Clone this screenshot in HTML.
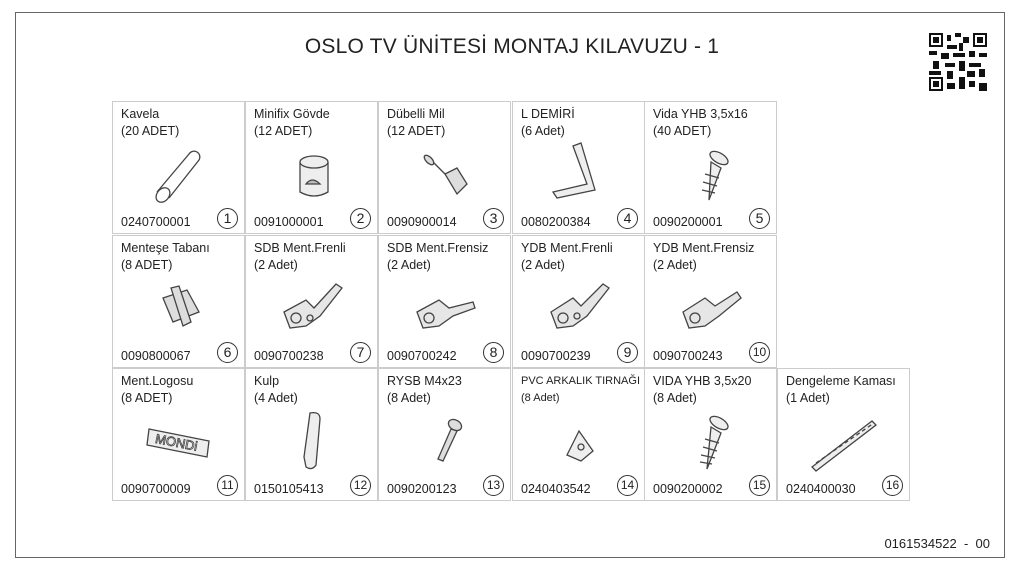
<!DOCTYPE html>
<html><head><meta charset="utf-8"><style>
body{margin:0;width:1024px;height:576px;background:#fff;position:relative;overflow:hidden;font-family:"Liberation Sans","DejaVu Sans",sans-serif;color:#222}
.frame{position:absolute;left:15px;top:12px;width:990px;height:546px;border:1.5px solid #666;box-sizing:border-box}
.title{position:absolute;left:0;width:1024px;top:35px;text-align:center;font-size:21px;letter-spacing:0.2px;color:#222}
.c{position:absolute;width:133px;height:133px;border:1px solid #ccc;box-sizing:border-box;font-size:12.5px}
.n{position:absolute;left:8px;top:4px;line-height:17px}
.code{position:absolute;left:8px;bottom:4px;font-size:12.5px}
.num{position:absolute;right:6px;bottom:4px;width:19px;height:19px;border:1px solid #333;border-radius:50%;text-align:center;line-height:19px;font-size:14px}
svg.ic{position:absolute;left:30px;top:36px;width:72px;height:72px}
.foot{position:absolute;right:34px;top:536px;font-size:13px}
.qr{position:absolute;left:929px;top:33px;width:58px;height:58px}
</style></head><body>
<div class="frame"></div>
<div class="title">OSLO TV ÜNİTESİ MONTAJ KILAVUZU - 1</div>
<svg class="qr" viewBox="0 0 29 29"><rect width="29" height="29" fill="#fff"/>
<g fill="#111"><rect x="0" y="0" width="7" height="7"/><rect x="22" y="0" width="7" height="7"/><rect x="0" y="22" width="7" height="7"/></g>
<g fill="#fff"><rect x="1" y="1" width="5" height="5"/><rect x="23" y="1" width="5" height="5"/><rect x="1" y="23" width="5" height="5"/></g>
<g fill="#111"><rect x="2" y="2" width="3" height="3"/><rect x="24" y="2" width="3" height="3"/><rect x="2" y="24" width="3" height="3"/>
<rect x="9" y="1" width="2" height="3"/><rect x="13" y="0" width="3" height="2"/><rect x="17" y="2" width="3" height="3"/><rect x="9" y="6" width="5" height="2"/><rect x="15" y="5" width="2" height="4"/>
<rect x="0" y="9" width="4" height="2"/><rect x="6" y="10" width="4" height="3"/><rect x="12" y="10" width="6" height="2"/><rect x="20" y="9" width="3" height="3"/><rect x="25" y="10" width="4" height="2"/>
<rect x="2" y="14" width="3" height="4"/><rect x="8" y="15" width="5" height="2"/><rect x="15" y="14" width="3" height="5"/><rect x="20" y="15" width="6" height="2"/>
<rect x="0" y="19" width="6" height="2"/><rect x="9" y="19" width="3" height="4"/><rect x="19" y="19" width="4" height="3"/><rect x="25" y="18" width="3" height="4"/>
<rect x="9" y="25" width="4" height="3"/><rect x="15" y="22" width="3" height="6"/><rect x="20" y="24" width="3" height="3"/><rect x="25" y="25" width="4" height="4"/></g></svg>

<!-- row1 -->
<div class="c" style="left:112px;top:101px"><div class="n">Kavela<br>(20 ADET)</div>
<svg class="ic" viewBox="0 0 72 72" fill="none" stroke="#444" stroke-width="1.3"><path d="M14 54 L46 16 A5 5 0 0 1 56 22 L26 60"/><ellipse cx="20" cy="57" rx="6" ry="8" transform="rotate(40 20 57)"/></svg>
<div class="code">0240700001</div><div class="num">1</div></div>
<div class="c" style="left:245px;top:101px"><div class="n">Minifix Gövde<br>(12 ADET)</div>
<svg class="ic" viewBox="0 0 72 72" fill="#eee" stroke="#444" stroke-width="1.3"><path d="M24 24 V54 Q38 62 52 54 V24"/><ellipse cx="38" cy="24" rx="14" ry="6"/><path d="M30 46 Q36 38 44 46 Z" fill="#bbb"/></svg>
<div class="code">0091000001</div><div class="num">2</div></div>
<div class="c" style="left:378px;top:101px"><div class="n">Dübelli Mil<br>(12 ADET)</div>
<svg class="ic" viewBox="0 0 72 72" fill="#ddd" stroke="#444" stroke-width="1.3"><path d="M22 22 L40 40"/><ellipse cx="20" cy="22" rx="3" ry="6" transform="rotate(-45 20 22)"/><path d="M36 36 L48 30 L58 46 L48 56 Z"/></svg>
<div class="code">0090900014</div><div class="num">3</div></div>
<div class="c" style="left:512px;top:101px"><div class="n">L DEMİRİ<br>(6 Adet)</div>
<svg class="ic" viewBox="0 0 72 72" fill="#eee" stroke="#444" stroke-width="1.3"><path d="M30 8 L38 5 L52 52 L14 60 L10 54 L44 46 Z"/></svg>
<div class="code">0080200384</div><div class="num">4</div></div>
<div class="c" style="left:644px;top:101px"><div class="n">Vida YHB 3,5x16<br>(40 ADET)</div>
<svg class="ic" viewBox="0 0 72 72" fill="#eee" stroke="#444" stroke-width="1.3"><ellipse cx="44" cy="20" rx="10" ry="5" transform="rotate(30 44 20)"/><path d="M36 24 L46 30 L34 62 Z"/><path d="M30 36 L44 40 M28 44 L42 48 M27 52 L40 55" /></svg>
<div class="code">0090200001</div><div class="num">5</div></div>
<!-- row2 -->
<div class="c" style="left:112px;top:235px"><div class="n">Menteşe Tabanı<br>(8 ADET)</div>
<svg class="ic" viewBox="0 0 72 72" fill="#ddd" stroke="#444" stroke-width="1.3"><path d="M20 26 L44 18 L56 40 L30 50 Z"/><path d="M28 16 L36 14 L48 50 L40 54 Z"/></svg>
<div class="code">0090800067</div><div class="num">6</div></div>
<div class="c" style="left:245px;top:235px"><div class="n">SDB Ment.Frenli<br>(2 Adet)</div>
<svg class="ic" viewBox="0 0 72 72" fill="#e6e6e6" stroke="#444" stroke-width="1.3"><path d="M8 40 L30 28 L38 36 L60 12 L66 16 L44 44 L30 54 L14 56 Z"/><circle cx="20" cy="46" r="5"/><circle cx="34" cy="46" r="3"/></svg>
<div class="code">0090700238</div><div class="num">7</div></div>
<div class="c" style="left:378px;top:235px"><div class="n">SDB Ment.Frensiz<br>(2 Adet)</div>
<svg class="ic" viewBox="0 0 72 72" fill="#e6e6e6" stroke="#444" stroke-width="1.3"><path d="M8 40 L30 28 L40 36 L64 30 L66 36 L44 44 L30 54 L14 56 Z"/><circle cx="20" cy="46" r="5"/></svg>
<div class="code">0090700242</div><div class="num">8</div></div>
<div class="c" style="left:512px;top:235px"><div class="n">YDB Ment.Frenli<br>(2 Adet)</div>
<svg class="ic" viewBox="0 0 72 72" fill="#e6e6e6" stroke="#444" stroke-width="1.3"><path d="M8 40 L30 26 L38 34 L60 12 L66 16 L44 44 L30 54 L14 56 Z"/><circle cx="20" cy="46" r="5"/><circle cx="34" cy="44" r="3"/></svg>
<div class="code">0090700239</div><div class="num">9</div></div>
<div class="c" style="left:644px;top:235px"><div class="n">YDB Ment.Frensiz<br>(2 Adet)</div>
<svg class="ic" viewBox="0 0 72 72" fill="#e6e6e6" stroke="#444" stroke-width="1.3"><path d="M8 40 L30 26 L40 34 L62 20 L66 26 L44 44 L30 54 L14 56 Z"/><circle cx="20" cy="46" r="5"/></svg>
<div class="code">0090700243</div><div class="num" style="font-size:12px">10</div></div>
<!-- row3 -->
<div class="c" style="left:112px;top:368px"><div class="n">Ment.Logosu<br>(8 ADET)</div>
<svg class="ic" viewBox="0 0 72 72" fill="#eee" stroke="#444" stroke-width="1.3"><path d="M6 24 L66 36 L64 52 L4 40 Z"/><text x="12" y="42" font-size="13" font-family="Liberation Sans" fill="#fff" stroke="#444" stroke-width="0.8" transform="rotate(11 34 38)">MONDi</text></svg>
<div class="code">0090700009</div><div class="num" style="font-size:12px">11</div></div>
<div class="c" style="left:245px;top:368px"><div class="n">Kulp<br>(4 Adet)</div>
<svg class="ic" viewBox="0 0 72 72" fill="#eee" stroke="#444" stroke-width="1.3"><path d="M34 8 Q44 6 44 14 L40 60 Q36 66 30 62 L28 52 Z"/></svg>
<div class="code">0150105413</div><div class="num" style="font-size:12px">12</div></div>
<div class="c" style="left:378px;top:368px"><div class="n">RYSB M4x23<br>(8 Adet)</div>
<svg class="ic" viewBox="0 0 72 72" fill="#ddd" stroke="#444" stroke-width="1.3"><ellipse cx="46" cy="20" rx="7" ry="5" transform="rotate(30 46 20)"/><path d="M42 24 L48 26 L34 56 L29 54 Z"/></svg>
<div class="code">0090200123</div><div class="num" style="font-size:12px">13</div></div>
<div class="c" style="left:512px;top:368px"><div class="n" style="font-size:11px">PVC ARKALIK TIRNAĞI<br>(8 Adet)</div>
<svg class="ic" viewBox="0 0 72 72" fill="#eee" stroke="#444" stroke-width="1.3"><path d="M24 50 L36 26 L50 46 L38 56 Z"/><circle cx="38" cy="42" r="3"/></svg>
<div class="code">0240403542</div><div class="num" style="font-size:12px">14</div></div>
<div class="c" style="left:644px;top:368px"><div class="n">VIDA YHB 3,5x20<br>(8 Adet)</div>
<svg class="ic" viewBox="0 0 72 72" fill="#eee" stroke="#444" stroke-width="1.3"><ellipse cx="44" cy="18" rx="10" ry="5" transform="rotate(30 44 18)"/><path d="M36 22 L46 28 L32 64 Z"/><path d="M30 34 L44 38 M28 42 L42 46 M26 50 L40 53 M25 57 L37 59"/></svg>
<div class="code">0090200002</div><div class="num" style="font-size:12px">15</div></div>
<div class="c" style="left:777px;top:368px"><div class="n">Dengeleme Kaması<br>(1 Adet)</div>
<svg class="ic" viewBox="0 0 72 72" fill="#eee" stroke="#444" stroke-width="1.3"><path d="M4 62 L64 16 L68 20 L8 66 Z"/><path d="M8 58 L66 18" stroke-dasharray="4 3"/></svg>
<div class="code">0240400030</div><div class="num" style="font-size:12px">16</div></div>
<div class="foot">0161534522 &nbsp;- &nbsp;00</div>
</body></html>
